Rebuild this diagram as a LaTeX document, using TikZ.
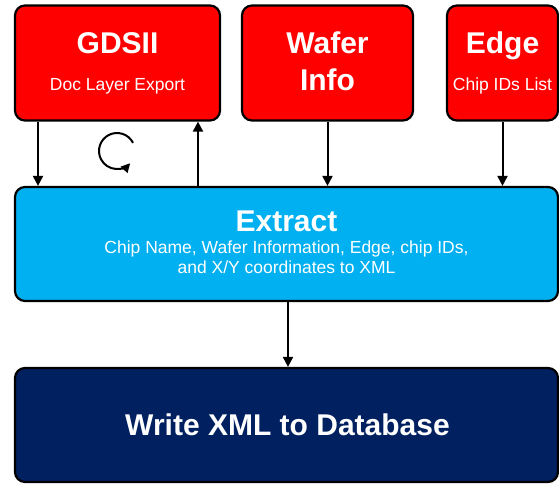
\documentclass[tikz,border=0pt]{standalone}
\usepackage{fontspec}
\setmainfont{Liberation Sans}
\usepackage{tikz}
\usetikzlibrary{arrows.meta}
\definecolor{boxred}{RGB}{255,0,0}
\definecolor{boxcyan}{RGB}{0,176,240}
\definecolor{boxnavy}{RGB}{0,32,96}
\newcommand{\bigtxt}{\fontsize{30}{35}\selectfont\bfseries}
\newcommand{\smalltxt}{\fontsize{17.5}{20}\selectfont}

\begin{document}
\begin{tikzpicture}[x=1pt,y=-1pt,
  blk/.style={draw=black,line width=2.2pt,rounded corners=10pt,inner sep=0pt},
  ttl/.style={text=white,anchor=base,inner sep=0pt,font=\bigtxt},
  sub/.style={text=white,anchor=base,inner sep=0pt,font=\smalltxt},
  arr/.style={line width=2pt,-{Triangle[length=10pt,width=10pt]}}]
\useasboundingbox (0,0) rectangle (559,483);
%%%% boxes
\node[blk,fill=boxred,minimum width=205pt,minimum height=115pt] (gds) at (117.5,63) {};
\node[blk,fill=boxred,minimum width=171pt,minimum height=115pt] (wafer) at (327.5,63) {};
\node[blk,fill=boxred,minimum width=111pt,minimum height=115pt] (edge) at (502.5,63) {};
\node[blk,fill=boxcyan,minimum width=543pt,minimum height=114pt] (extract) at (286.5,244) {};
\node[blk,fill=boxnavy,minimum width=543pt,minimum height=114pt] (write) at (286.5,425) {};
%
\node[ttl] (gdsT) at (117.5,53) {GDSII};
\node[sub] (gdsS) at (117.5,90) {Doc Layer Export};
\node[ttl] (waferT) at (327.5,53) {Wafer};
\node[ttl] (waferS) at (327.5,90) {Info};
\node[ttl] (edgeT) at (502.5,53) {Edge};
\node[sub] (edgeS) at (502.5,90) {Chip IDs List};
\node[ttl] (extractT) at (286.5,231) {Extract};
\node[sub] (extractA) at (286.5,253) {Chip Name, Wafer Information, Edge, chip IDs,};
\node[sub] (extractB) at (286.5,273) {and X/Y coordinates to XML};
\node[ttl] (writeT) at (287.5,435) {Write XML to Database};
%%%% arrows
\draw[arr] (38,0 |- gds.south) -- (38,0 |- extract.north);
\draw[arr] (198,0 |- extract.north) -- (198,0 |- gds.south);
\draw[arr] (wafer.south) -- (wafer.south |- extract.north);
\draw[arr] (edge.south) -- (edge.south |- extract.north);
\draw[arr] (288,0 |- extract.south) -- (288,0 |- write.north);
%loop sign
\coordinate (loop) at (117,151);
\draw[line width=2pt,-{Triangle[length=9pt,width=9pt]}] (loop) ++(27:18pt) arc[start angle=27,end angle=317,radius=18pt];
\end{tikzpicture}
\end{document}
